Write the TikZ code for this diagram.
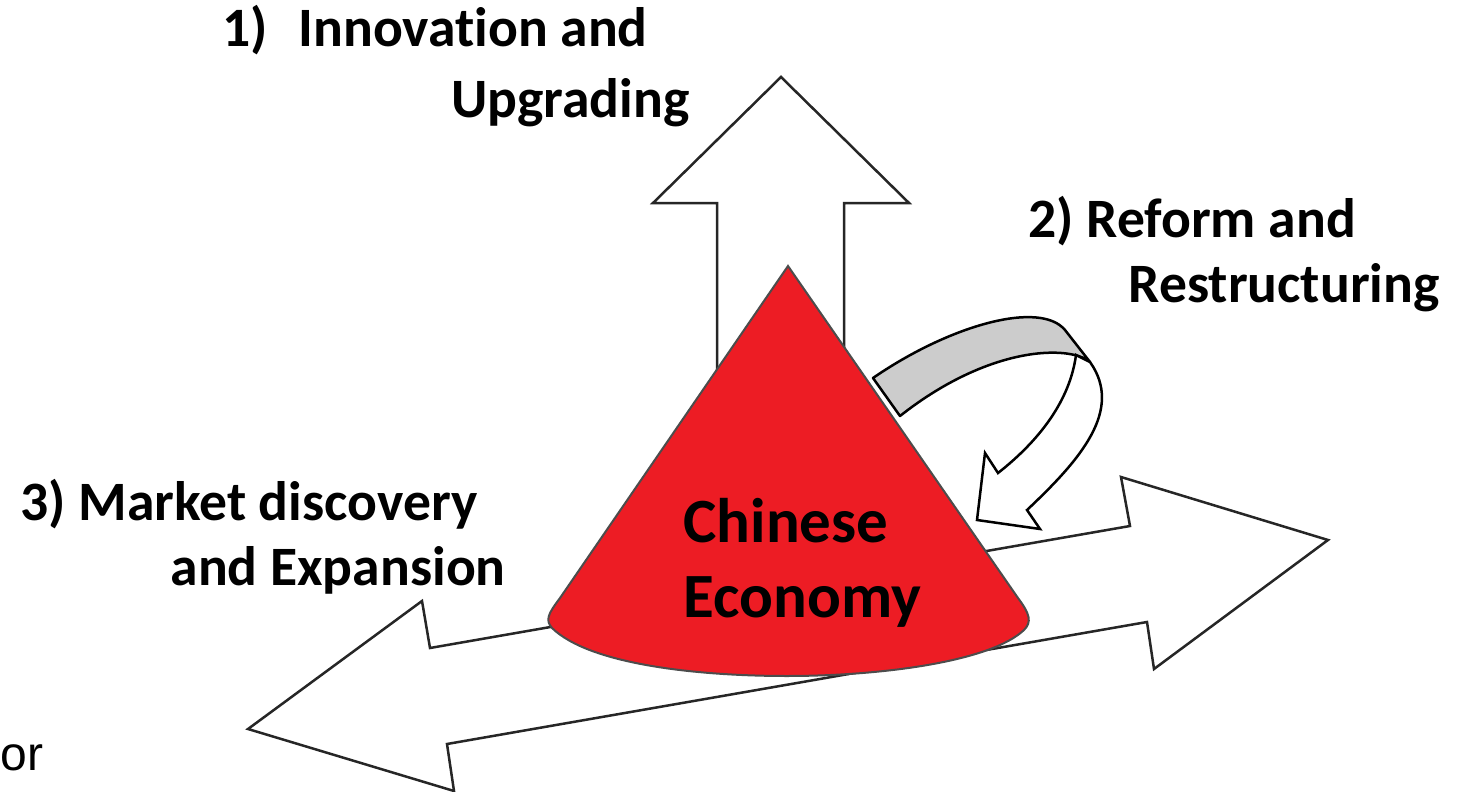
\documentclass[tikz,border=0pt]{standalone}
\usepackage{fontspec}
\setmainfont{Carlito}[Ligatures=NoCommon]
\newfontfamily\orfont{Liberation Sans}
\begin{document}
\begin{tikzpicture}[x=0.5pt,y=-0.5pt,
  outline/.style={draw=black!85,line width=1.25pt,line join=miter},
  label/.style={inner sep=0pt,font=\fontsize{27.8}{33}\selectfont\bfseries},
  conetext/.style={inner sep=0pt,font=\fontsize{31.5}{38}\selectfont\bfseries}]
\useasboundingbox (0,0) rectangle (1457,792);
\definecolor{conered}{HTML}{ED1C24}
\definecolor{bandgray}{HTML}{CCCCCC}

% horizontal double arrow (market discovery and expansion)
\draw[outline,fill=white]
  (248,729) -- (422,601) -- (430,648) -- (1130,526) -- (1121,477)
  -- (1328,540) -- (1154,669) -- (1147,622) -- (447,744) -- (454,791) -- cycle;

% vertical arrow (innovation and upgrading)
\draw[outline,fill=white]
  (717,420) -- (717,203) -- (653,203) -- (781,77) -- (909,203)
  -- (844,203) -- (844,420) -- cycle;

% the cone
\draw[draw=black!70,line width=1pt,fill=conered]
  (788,266) -- (560,598) .. controls (548,614) and (545,620) .. (552,628)
  .. controls (590,665) and (700,676) .. (787,676)
  .. controls (880,676) and (990,662) .. (1024,630)
  .. controls (1032,622) and (1030,614) .. (1018,598) -- cycle;

% curved arrow (reform and restructuring): back of the ribbon
\draw[line width=1.25pt,fill=bandgray,line join=round]
  (873,378) .. controls (950,325) and (1040,300) .. (1065,330)
  -- (1090,362) .. controls (1070,345) and (990,345) .. (900,416) -- cycle;
% front of the ribbon with its head
\draw[line width=1.25pt,fill=white,line join=miter]
  (1090,362) -- (1076,355) .. controls (1070,400) and (1040,440) .. (998,473)
  -- (985,453) -- (977,520) -- (1040,529) -- (1027,510)
  .. controls (1080,460) and (1124,410) .. (1090,362) -- cycle;

% labels
\node[label,anchor=base west] (l1a) at (222,47) {1)\hspace{0.55em}Innovation and};
\node[label,anchor=base east] (l1b) at (690,118) {Upgrading};
\node[label,anchor=base west] (l2a) at (1028,237) {2) Reform and};
\node[label,anchor=base east] (l2b) at (1440,302) {Restructuring};
\node[label,anchor=base west] (l3a) at (20,520) {3) Market discovery};
\node[label,anchor=base east] (l3b) at (506,585) {and Expansion};

\node[conetext,anchor=base west] (c1) at (683,542) {Chinese};
\node[conetext,anchor=base west] (c2) at (683,617) {Economy};

\node[inner sep=0pt,anchor=base west,font=\orfont\fontsize{24}{28}\selectfont] (or) at (0,770) {or};
\end{tikzpicture}
\end{document}
